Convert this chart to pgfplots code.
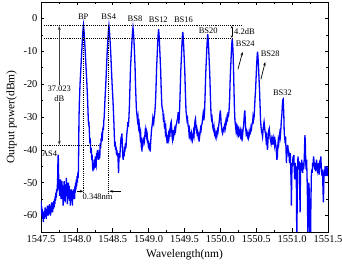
\documentclass[border=0pt]{standalone}
\usepackage{pgfplots}
\pgfplotsset{compat=1.18}
\usepackage{fontspec}
\setmainfont{Liberation Serif}
\usetikzlibrary{arrows.meta}

\pgfplotstableread{
x y
1547.500 -55.5
1547.504 -58.5
1547.508 -57
1547.513 -60
1547.518 -58
1547.523 -61
1547.528 -59
1547.533 -62
1547.538 -59.5
1547.543 -61
1547.548 -58.5
1547.553 -60.5
1547.558 -57.5
1547.563 -60
1547.568 -58
1547.573 -61
1547.578 -58.5
1547.583 -60
1547.588 -57
1547.593 -59.5
1547.598 -57.5
1547.603 -60
1547.608 -57
1547.613 -59
1547.618 -56.5
1547.623 -59.5
1547.628 -57
1547.633 -60
1547.638 -58
1547.643 -59
1547.648 -56
1547.653 -58.5
1547.658 -57
1547.663 -59
1547.668 -56
1547.673 -58
1547.678 -55.5
1547.683 -57.5
1547.688 -55
1547.693 -56.5
1547.698 -54
1547.703 -55.5
1547.708 -53
1547.713 -54.5
1547.718 -52
1547.723 -53
1547.728 -51
1547.733 -48
1547.737 -42
1547.741 -41.5
1547.745 -47
1547.749 -52
1547.753 -49
1547.758 -54
1547.763 -50
1547.768 -53
1547.773 -49
1547.778 -55
1547.783 -50.5
1547.788 -54
1547.793 -49.5
1547.798 -55
1547.803 -51.5
1547.808 -57
1547.813 -51
1547.818 -54
1547.823 -49.5
1547.828 -55.5
1547.833 -51.5
1547.838 -56
1547.843 -50.5
1547.848 -54
1547.853 -48.5
1547.858 -53
1547.863 -50
1547.868 -56.5
1547.873 -51.5
1547.878 -55
1547.883 -50
1547.888 -53.5
1547.893 -51
1547.898 -55.5
1547.903 -52
1547.908 -57
1547.913 -53
1547.918 -55.5
1547.923 -52
1547.928 -54
1547.933 -52.5
1547.938 -57
1547.943 -53
1547.948 -55
1547.953 -52
1547.958 -54.5
1547.963 -52
1547.968 -55
1547.973 -51
1547.978 -53
1547.983 -50
1547.988 -52
1547.993 -49
1547.998 -51
1548.003 -48
1548.008 -50
1548.013 -47
1548.018 -48.5
1548.022 -46
1548.026 -38
1548.029 -31
1548.034 -26
1548.044 -20
1548.056 -15
1548.068 -10
1548.078 -6
1548.085 -3.6
1548.092 -2.1
1548.099 -3.6
1548.106 -6
1548.116 -10
1548.128 -15
1548.140 -20
1548.150 -25
1548.158 -30
1548.163 -32.5
1548.168 -31.5
1548.175 -35
1548.181 -38
1548.187 -36.5
1548.194 -41
1548.200 -39.5
1548.207 -43
1548.213 -41.5
1548.219 -45
1548.225 -46.5
1548.231 -44
1548.237 -46
1548.243 -43
1548.250 -45.5
1548.256 -42
1548.262 -44.5
1548.268 -45
1548.274 -41
1548.280 -43
1548.287 -40
1548.293 -42.5
1548.300 -41
1548.306 -43
1548.313 -40
1548.319 -42.5
1548.325 -38
1548.332 -39.5
1548.338 -36.5
1548.344 -37.5
1548.350 -34.5
1548.357 -35.5
1548.364 -33
1548.370 -34
1548.376 -31
1548.381 -30
1548.391 -25
1548.403 -20
1548.413 -15
1548.423 -10
1548.433 -6.2
1548.440 -3.7
1548.447 -2.2
1548.454 -3.7
1548.461 -6.2
1548.471 -10
1548.481 -15
1548.491 -20
1548.503 -25
1548.513 -30
1548.518 -33
1548.523 -36
1548.528 -39
1548.534 -37.5
1548.540 -40
1548.546 -39
1548.552 -41.5
1548.558 -40
1548.564 -42
1548.570 -41
1548.576 -44
1548.581 -47
1548.586 -43
1548.592 -41
1548.598 -42.5
1548.604 -40
1548.610 -38
1548.616 -36
1548.622 -37.5
1548.628 -35
1548.634 -39
1548.640 -42
1548.646 -43
1548.652 -40.5
1548.658 -42
1548.664 -39
1548.670 -40.5
1548.677 -38
1548.684 -39.5
1548.690 -37
1548.697 -35
1548.704 -33.5
1548.711 -31.5
1548.717 -33
1548.724 -30.8
1548.732 -26.8
1548.740 -20.8
1548.748 -14.8
1548.758 -10.8
1548.768 -6.8
1548.775 -4.3
1548.782 -2.8
1548.789 -4.3
1548.796 -6.8
1548.804 -10.8
1548.811 -14.8
1548.818 -20.8
1548.825 -25
1548.831 -28
1548.838 -29.5
1548.845 -31
1548.852 -30
1548.860 -33
1548.868 -32
1548.875 -34
1548.882 -36
1548.889 -35
1548.896 -38
1548.902 -37.5
1548.907 -40.5
1548.913 -38
1548.919 -39
1548.925 -36.5
1548.931 -38
1548.937 -36
1548.943 -37
1548.950 -35
1548.956 -36
1548.962 -33.5
1548.968 -34
1548.974 -36
1548.980 -35.5
1548.986 -38
1548.992 -37
1548.998 -39.5
1549.004 -38
1549.010 -40
1549.016 -39
1549.022 -40.5
1549.028 -38
1549.034 -36
1549.040 -34
1549.046 -33
1549.052 -32
1549.058 -30.5
1549.064 -31.5
1549.070 -32
1549.078 -30
1549.085 -29
1549.094 -26.3
1549.103 -21.3
1549.111 -15.3
1549.119 -11.3
1549.127 -7.3
1549.133 -4.8
1549.139 -3.3
1549.145 -4.8
1549.151 -7.3
1549.159 -11.3
1549.167 -15.3
1549.175 -21.3
1549.184 -26.3
1549.190 -27.5
1549.198 -28
1549.205 -30.5
1549.212 -30
1549.219 -32.5
1549.226 -32
1549.233 -34.5
1549.240 -33.5
1549.246 -35.5
1549.252 -36.5
1549.258 -38
1549.264 -36.5
1549.270 -37
1549.276 -35.5
1549.283 -36.5
1549.290 -35
1549.297 -36
1549.303 -33
1549.309 -32
1549.315 -31.5
1549.321 -33.5
1549.327 -36
1549.333 -37
1549.339 -36
1549.345 -34
1549.351 -35.5
1549.357 -34.5
1549.363 -35.5
1549.369 -33.5
1549.376 -34
1549.383 -32.5
1549.390 -32
1549.397 -31
1549.404 -30.5
1549.412 -28.5
1549.422 -32
1549.431 -28.1
1549.440 -22.1
1549.448 -16.1
1549.456 -12.1
1549.464 -8.1
1549.470 -5.6
1549.476 -4.1
1549.482 -5.6
1549.488 -8.1
1549.496 -12.1
1549.504 -16.1
1549.512 -22.1
1549.521 -28.1
1549.528 -29.5
1549.535 -31
1549.542 -30.5
1549.549 -32.5
1549.556 -33
1549.563 -35
1549.570 -34
1549.577 -36
1549.584 -35.5
1549.591 -36.5
1549.598 -35
1549.605 -36
1549.612 -37
1549.619 -36
1549.626 -34.5
1549.633 -35.5
1549.640 -33
1549.647 -31
1549.653 -30.5
1549.659 -32.5
1549.665 -34
1549.671 -33.5
1549.677 -35
1549.684 -34.5
1549.691 -36
1549.698 -35.5
1549.704 -37.5
1549.710 -36
1549.717 -35
1549.724 -33.5
1549.731 -34
1549.738 -32.5
1549.745 -32
1549.752 -30.5
1549.760 -29
1549.770 -31
1549.779 -28.8
1549.788 -22.8
1549.796 -16.8
1549.804 -12.8
1549.812 -8.8
1549.818 -6.3
1549.824 -4.8
1549.830 -6.3
1549.836 -8.8
1549.844 -12.8
1549.852 -16.8
1549.860 -22.8
1549.869 -28.8
1549.876 -30.5
1549.883 -30
1549.890 -32
1549.897 -33.5
1549.904 -34
1549.911 -33
1549.918 -35
1549.925 -34.5
1549.932 -36
1549.939 -36.5
1549.946 -35
1549.953 -35.5
1549.960 -34
1549.967 -34.5
1549.974 -33
1549.981 -32
1549.988 -30.5
1549.994 -29
1550.000 -28
1550.006 -30
1550.012 -32.5
1550.018 -33
1550.024 -34.5
1550.031 -35
1550.037 -34
1550.044 -33.5
1550.051 -34
1550.058 -32.5
1550.065 -32
1550.072 -33
1550.079 -31
1550.086 -31.5
1550.093 -30
1550.100 -30.5
1550.107 -28.5
1550.112 -30
1550.121 -28
1550.129 -24.3
1550.137 -18.3
1550.145 -14.3
1550.153 -10.3
1550.159 -7.8
1550.165 -6.3
1550.171 -7.8
1550.177 -10.3
1550.184 -16
1550.191 -23
1550.197 -28
1550.203 -31
1550.210 -32.5
1550.217 -34
1550.224 -33
1550.231 -34.5
1550.238 -33.5
1550.245 -35
1550.252 -34
1550.259 -35.5
1550.266 -35
1550.273 -34
1550.280 -35.5
1550.287 -34.5
1550.294 -36
1550.301 -35
1550.308 -36
1550.315 -34
1550.322 -33
1550.329 -31
1550.335 -29
1550.341 -28
1550.347 -31
1550.353 -33.5
1550.359 -35
1550.365 -34.5
1550.371 -35.5
1550.378 -36
1550.385 -35
1550.392 -36.5
1550.399 -36
1550.406 -35
1550.413 -34
1550.420 -34.5
1550.427 -33
1550.434 -33.5
1550.441 -32
1550.448 -32
1550.455 -30
1550.462 -31
1550.470 -30
1550.477 -27
1550.484 -24
1550.490 -22
1550.498 -18
1550.506 -14
1550.512 -11.6
1550.518 -10.1
1550.524 -11.6
1550.530 -14
1550.538 -18
1550.546 -22
1550.554 -27
1550.560 -31
1550.567 -33
1550.574 -34.5
1550.581 -35
1550.588 -36
1550.595 -34
1550.602 -32.5
1550.609 -31.5
1550.616 -33
1550.623 -34.5
1550.630 -35
1550.637 -37
1550.644 -36
1550.651 -38.5
1550.657 -40
1550.663 -37.5
1550.669 -35
1550.675 -34
1550.681 -33.5
1550.687 -35
1550.693 -36.5
1550.700 -37
1550.707 -38
1550.713 -37
1550.720 -38.5
1550.727 -36.5
1550.734 -36
1550.741 -37.5
1550.748 -37
1550.755 -38.5
1550.762 -37
1550.769 -38
1550.776 -39
1550.782 -41
1550.788 -43
1550.794 -42
1550.800 -39
1550.807 -37
1550.814 -38
1550.821 -36.5
1550.828 -35
1550.835 -36
1550.842 -34
1550.850 -31
1550.858 -29
1550.864 -26.5
1550.870 -24.8
1550.875 -24.6
1550.880 -27
1550.885 -30
1550.890 -35
1550.896 -36
1550.903 -38
1550.909 -36
1550.915 -40
1550.921 -44
1550.927 -39
1550.933 -41
1550.939 -38.5
1550.945 -40
1550.951 -42
1550.957 -40.5
1550.963 -44
1550.969 -43
1550.975 -41
1550.981 -46
1550.986 -50
1550.990 -57
1550.995 -48
1551.000 -44
1551.006 -45
1551.012 -42
1551.018 -44
1551.024 -41.5
1551.030 -46
1551.036 -49
1551.042 -44
1551.048 -47
1551.054 -45
1551.060 -52
1551.065 -68
1551.070 -58
1551.076 -45
1551.082 -42
1551.088 -44
1551.094 -46
1551.100 -43.5
1551.106 -52
1551.111 -59
1551.116 -48
1551.122 -44
1551.128 -46
1551.134 -43
1551.140 -45.5
1551.146 -47
1551.152 -44
1551.158 -46
1551.164 -45
1551.170 -42
1551.175 -38
1551.179 -35.5
1551.184 -38
1551.190 -44
1551.196 -46
1551.202 -43
1551.208 -48
1551.214 -55
1551.220 -68
1551.226 -58
1551.232 -50
1551.238 -52
1551.244 -60
1551.250 -68
1551.256 -68
1551.262 -56
1551.268 -48
1551.274 -46
1551.280 -47
1551.286 -44
1551.292 -45
1551.298 -42
1551.304 -43
1551.310 -45
1551.316 -46
1551.322 -44
1551.328 -46.5
1551.334 -45
1551.340 -43
1551.346 -44.5
1551.352 -46
1551.358 -45
1551.364 -47
1551.370 -44
1551.376 -47.5
1551.382 -46
1551.388 -43
1551.394 -44.5
1551.400 -42
1551.406 -45
1551.412 -47
1551.418 -48
1551.424 -46
1551.430 -52
1551.436 -56
1551.442 -50
1551.448 -46
1551.454 -47
1551.460 -45
1551.466 -48
1551.472 -46
1551.478 -47
1551.484 -45
1551.490 -48
1551.496 -46
1551.500 -45.5
}\spectrum

\begin{document}
\begin{tikzpicture}
\begin{axis}[
  name=ax,
  scale only axis,
  width=287bp, height=230bp,
  xmin=1547.5, xmax=1551.5, ymin=-65, ymax=5,
  xtick={1547.5,1548.0,1548.5,1549.0,1549.5,1550.0,1550.5,1551.0,1551.5},
  ytick={-60,-50,-40,-30,-20,-10,0},
  minor x tick num=1, minor y tick num=1,
  tick align=inside,
  major tick length=3.5bp, minor tick length=2bp,
  tick style={black, line width=0.6bp},
  axis line style={line width=0.8bp},
  xticklabel style={/pgf/number format/.cd, fixed, fixed zerofill, precision=1, 1000 sep={}},
  /pgf/number format/assume math mode=true,
  tick label style={font=\fontsize{10.5}{12}\selectfont},
  label style={font=\fontsize{11.5}{13}\selectfont},
  xlabel={Wavelength(nm)},
  ylabel={Output power(dBm)},
]
\addplot[color={rgb,255:red,0;green,0;blue,255}, line width=1.3bp, mark=none] table[x=x,y=y] {\spectrum};

% dotted reference lines
\draw[densely dotted, line width=0.9bp] (axis cs:1547.54,-2.0) -- (axis cs:1550.30,-2.0);
\draw[densely dotted, line width=0.9bp] (axis cs:1547.54,-6.2) -- (axis cs:1550.18,-6.2);
\draw[densely dotted, line width=0.9bp] (axis cs:1547.5,-38.8) -- (axis cs:1548.32,-38.8);
\draw[densely dotted, line width=0.9bp] (axis cs:1548.092,-2.1) -- (axis cs:1548.092,-53.4);
\draw[densely dotted, line width=0.9bp] (axis cs:1548.447,-2.2) -- (axis cs:1548.447,-53.4);

% 37.023 dB arrow
\draw[{Stealth[length=4bp,width=3bp]}-{Stealth[length=4bp,width=3bp]}, line width=0.8bp, black!75]
  (axis cs:1547.755,-2.3) -- (axis cs:1547.755,-38.5);
\node[fill=white, inner sep=1bp, align=center, font=\fontsize{8.5}{10}\selectfont]
  at (axis cs:1547.755,-22.8) {37.023\\dB};

% 4.2 dB arrow
\draw[{Stealth[length=2.5bp,width=2.5bp]}-{Stealth[length=2.5bp,width=2.5bp]}, line width=0.7bp]
  (axis cs:1550.16,-2.3) -- (axis cs:1550.16,-5.9);
\node[anchor=west, inner sep=0pt, font=\fontsize{8.5}{10}\selectfont] at (axis cs:1550.19,-4.0) {4.2dB};

% 0.348 nm arrows
\draw[-{Stealth[length=3.5bp,width=2.5bp]}, line width=0.7bp] (axis cs:1548.00,-52.6) -- (axis cs:1548.090,-52.6);
\draw[-{Stealth[length=3.5bp,width=2.5bp]}, line width=0.7bp] (axis cs:1548.62,-52.6) -- (axis cs:1548.452,-52.6);
\node[font=\fontsize{8.5}{10}\selectfont, inner sep=0pt] at (axis cs:1548.289,-54.4) {0.348nm};

% labels
\tikzset{lab/.style={font=\fontsize{8.5}{10}\selectfont, inner sep=0pt}}
\node[lab] at (axis cs:1548.088,0.5) {BP};
\node[lab] at (axis cs:1548.444,0.5) {BS4};
\node[lab] at (axis cs:1548.81,0.0) {BS8};
\node[lab] at (axis cs:1549.135,-0.3) {BS12};
\node[lab] at (axis cs:1549.486,-0.5) {BS16};
\node[lab] at (axis cs:1549.83,-3.8) {BS20};
\node[lab] at (axis cs:1550.347,-7.8) {BS24};
\node[lab] at (axis cs:1550.694,-10.8) {BS28};
\node[lab] at (axis cs:1550.865,-22.5) {BS32};
\node[lab] at (axis cs:1547.62,-41.3) {AS4};

\draw[-{Stealth[length=3.5bp,width=2.5bp]}, line width=0.7bp] (axis cs:1550.245,-15.5) -- (axis cs:1550.31,-10.2);
\draw[-{Stealth[length=3.5bp,width=2.5bp]}, line width=0.7bp] (axis cs:1550.565,-18.5) -- (axis cs:1550.625,-13.3);
\end{axis}
\pgfresetboundingbox
\path ([shift={(-41bp,-35bp)}]ax.south west) rectangle ([shift={(14bp,2bp)}]ax.north east);
\end{tikzpicture}
\end{document}
